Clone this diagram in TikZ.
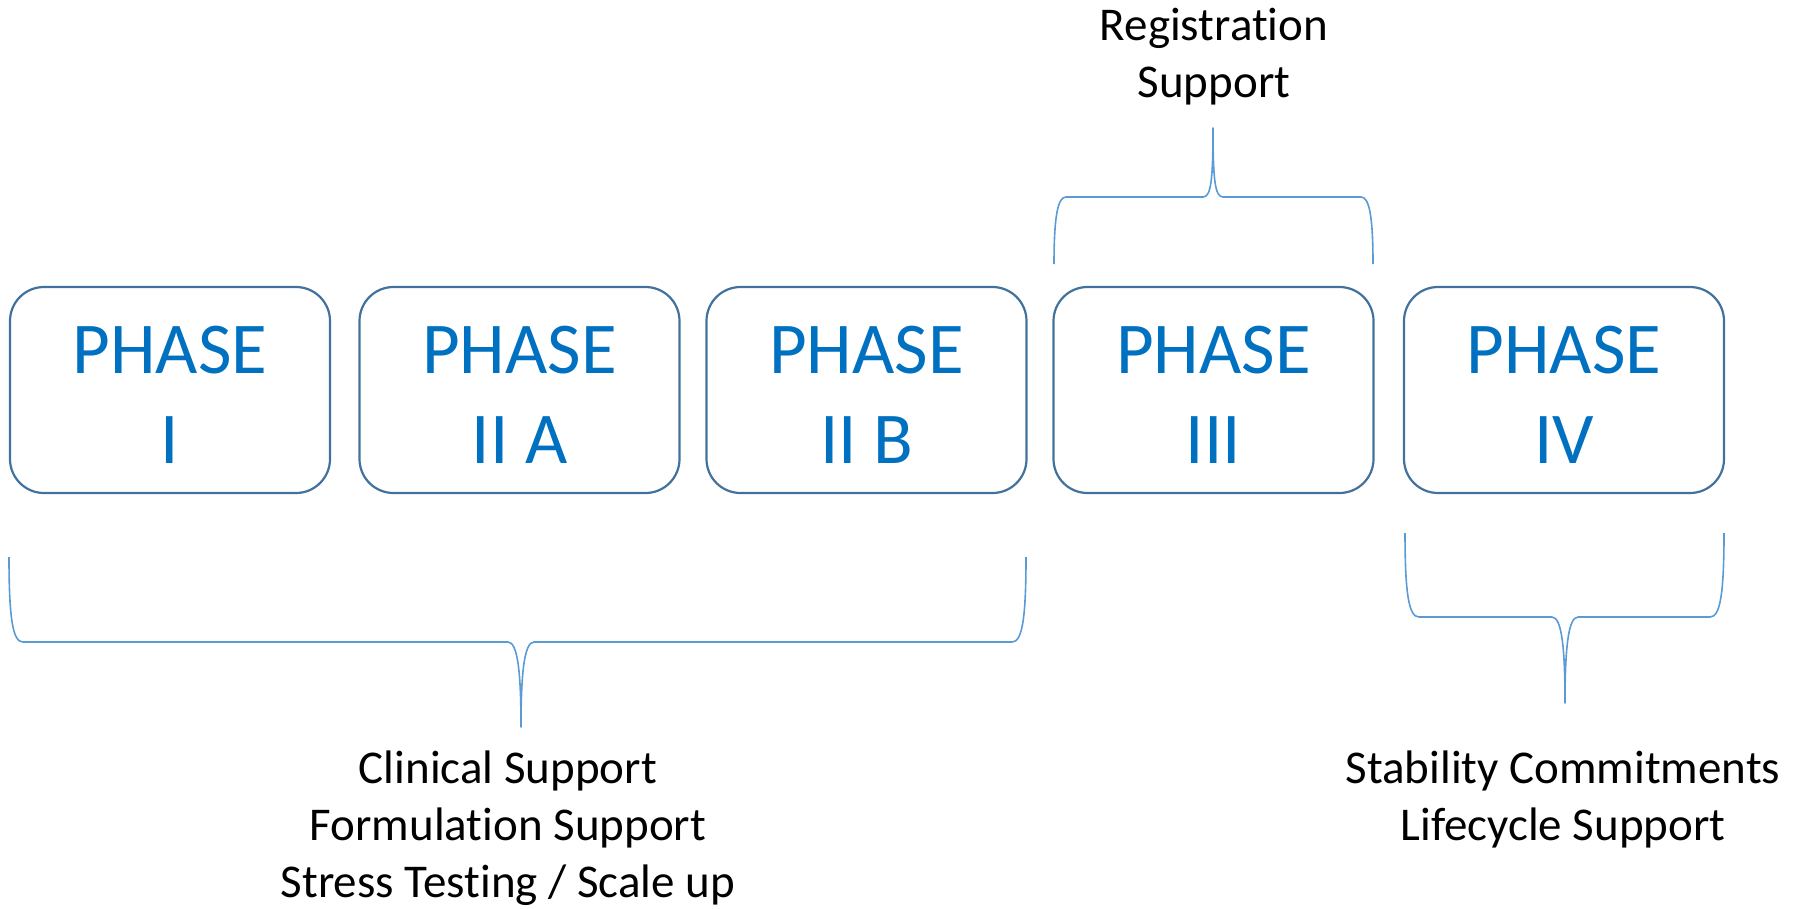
\documentclass[tikz,border=0pt]{standalone}
\usepackage{fontspec}
\setmainfont{Carlito}[Ligatures=CommonOff]
\usetikzlibrary{positioning}
\definecolor{phaseblue}{HTML}{0070C0}
\definecolor{boxline}{HTML}{41719C}
\definecolor{bracecol}{HTML}{5B9BD5}

\begin{document}
\begin{tikzpicture}[x=1pt,y=-1pt,
  phasebox/.style={draw=boxline,line width=2.2pt,rounded corners=34pt,
    minimum width=320pt,minimum height=206pt,text=phaseblue,align=center,
    font=\fontsize{73}{90}\selectfont,text height=147pt},
  note/.style={align=center,inner sep=0pt,font=\fontsize{47}{57}\selectfont},
  bracket/.style={draw=bracecol,line width=1.6pt,line join=round}]
\useasboundingbox (0,0) rectangle (1802,908);

% the five phases, left to right
\node[phasebox] (p1) at (170,390) {PHASE\\I};
\node[phasebox] (p2) at (519.5,390) {PHASE\\II A};
\node[phasebox] (p3) at (866.5,390) {PHASE\\II B};
\node[phasebox] (p4) at (1213.5,390) {PHASE\\III};
\node[phasebox] (p5) at (1564,390) {PHASE\\IV};

% brace over phase III
\draw[bracket] (1054,264) .. controls (1054,215) and (1058,197) .. (1066,197)
  -- (1203,197) .. controls (1211,197) and (1213,180) .. (1213,128)
  .. controls (1213,180) and (1215,197) .. (1223,197)
  -- (1361,197) .. controls (1369,197) and (1373,215) .. (1373,264);
% brace under phases I - II B
\draw[bracket] (9,557) .. controls (9,620) and (13,642) .. (23,642)
  -- (508,642) .. controls (518,642) and (521,675) .. (521,727)
  .. controls (521,675) and (524,642) .. (534,642)
  -- (1012,642) .. controls (1022,642) and (1026,620) .. (1026,557);
% brace under phase IV
\draw[bracket] (1405,533) .. controls (1405,595) and (1409,617) .. (1419,617)
  -- (1552,617) .. controls (1562,617) and (1565,650) .. (1565,703)
  .. controls (1565,650) and (1568,617) .. (1578,617)
  -- (1710,617) .. controls (1720,617) and (1724,595) .. (1724,533);

% what each group of phases needs (base = last line)
\node[note,anchor=base] (reg) at (1214,97) {Registration\\Support};
\node[note,anchor=base] (clin) at (508,897) {Clinical Support\\Formulation Support\\Stress Testing / Scale up};
\node[note,anchor=base] (stab) at (1563,840) {Stability Commitments\\Lifecycle Support};
\end{tikzpicture}
\end{document}
